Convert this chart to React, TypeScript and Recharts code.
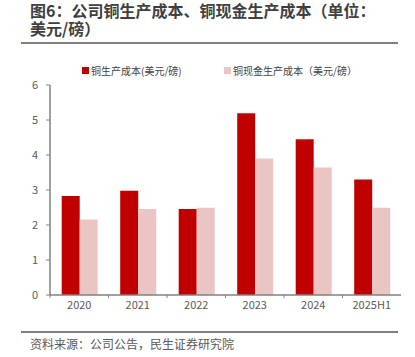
// Copper production cost vs copper cash production cost, USD/lb, by year.
import { Bar, BarChart, XAxis, YAxis } from "recharts";

const years = ["2020", "2021", "2022", "2023", "2024", "2025H1"];
const productionCost = [2.83, 2.98, 2.46, 5.19, 4.45, 3.3];
const cashCost = [2.16, 2.46, 2.49, 3.9, 3.64, 2.49];
const yTicks = [0, 1, 2, 3, 4, 5, 6];

const RED = "#C00000";
const PINK = "#EBC4C4";
const AXIS = "#808080";
const TEXT = "#595959";
const FONT = '"Noto Sans CJK SC", "Noto Sans", sans-serif';

const W = 415;
const H = 357;
const PLOT_LEFT = 50;
const PLOT_RIGHT = 401;
const BAND = (PLOT_RIGHT - PLOT_LEFT) / years.length;

const data = years.map((year, i) => ({
  year,
  production: productionCost[i],
  cash: cashCost[i],
}));

// category label in the middle, small tick mark on the left edge of each band
function YearTick(props: any) {
  const { x, y, payload } = props;
  const left = x - BAND / 2;
  return (
    <g>
      <line x1={left} y1={y} x2={left} y2={y + 3} stroke={AXIS} strokeWidth={1} />
      <text
        x={x}
        y={y + 14}
        textAnchor="middle"
        fontSize={11}
        fill={TEXT}
        fontFamily={FONT}
      >
        {payload.value}
      </text>
    </g>
  );
}

function LegendItem({ x, color, label }: { x: number; color: string; label: string }) {
  return (
    <div
      style={{
        position: "absolute",
        left: x,
        top: 63,
        display: "flex",
        alignItems: "center",
        fontSize: 10,
        color: "#404040",
        whiteSpace: "nowrap",
        lineHeight: "15px",
      }}
    >
      <span style={{ width: 7, height: 7, background: color, marginRight: 2, display: "inline-block" }} />
      {label}
    </div>
  );
}

export default function App() {
  return (
    <div
      style={{
        position: "fixed",
        left: 0,
        top: 0,
        width: W,
        height: H,
        background: "#fff",
        fontFamily: FONT,
        overflow: "hidden",
      }}
    >
      <div
        style={{
          position: "absolute",
          left: 30,
          top: 1,
          fontSize: 16,
          lineHeight: "18px",
          fontWeight: 700,
          color: "#3f3f3f",
          whiteSpace: "nowrap",
        }}
      >
        <div>图6：公司铜生产成本、铜现金生产成本（单位：</div>
        <div>美元/磅）</div>
      </div>
      <div style={{ position: "absolute", left: 21, top: 42, width: 377, height: 2, background: "#7f7f7f" }} />

      <LegendItem x={82} color={RED} label="铜生产成本(美元/磅)" />
      <LegendItem x={224} color={PINK} label="铜现金生产成本（美元/磅）" />

      <div style={{ position: "absolute", left: 0, top: 0 }}>
        <BarChart
          width={W}
          height={H}
          data={data}
          margin={{ top: 85, right: W - PLOT_RIGHT, left: 20, bottom: 32 }}
          barCategoryGap="20%"
          barGap={0}
        >
          <XAxis
            dataKey="year"
            axisLine={{ stroke: AXIS, strokeWidth: 1.5 }}
            tickLine={false}
            tickSize={0}
            tickMargin={0}
            tick={<YearTick />}
            height={30}
            interval={0}
          />
          <YAxis
            domain={[0, 6]}
            ticks={yTicks}
            width={30}
            axisLine={{ stroke: AXIS, strokeWidth: 1.5 }}
            tickLine={{ stroke: AXIS }}
            tickSize={4}
            tickMargin={8}
            tick={{ fontSize: 11, fill: TEXT, fontFamily: FONT }}
          />
          <Bar dataKey="production" fill={RED} isAnimationActive={false} />
          <Bar dataKey="cash" fill={PINK} isAnimationActive={false} />
        </BarChart>
      </div>

      <div style={{ position: "absolute", left: 21, top: 331, width: 377, height: 2, background: "#7f7f7f" }} />
      <div
        style={{
          position: "absolute",
          left: 30,
          top: 336,
          fontSize: 12,
          lineHeight: "16px",
          color: TEXT,
          whiteSpace: "nowrap",
        }}
      >
        资料来源：公司公告，民生证券研究院
      </div>
    </div>
  );
}
